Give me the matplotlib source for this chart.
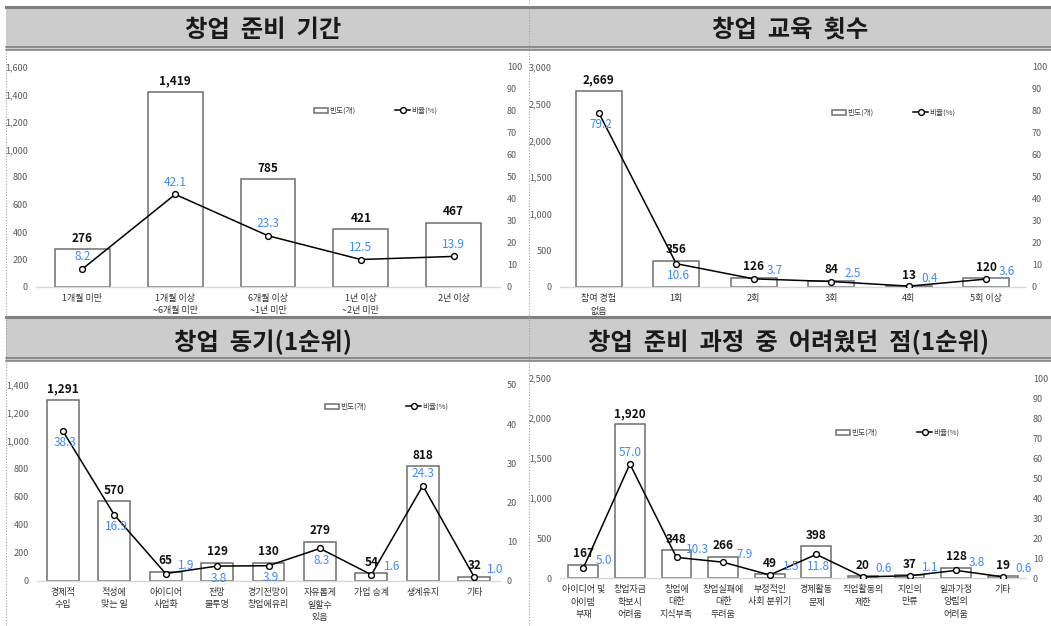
import matplotlib
matplotlib.use("Agg")
import matplotlib.pyplot as plt
from matplotlib.patches import Rectangle
from matplotlib.lines import Line2D

plt.rcParams['font.family'] = ['Noto Sans CJK KR', 'DejaVu Sans']

W, H = 1051, 626

# ---------------- dados ----------------
titulo1 = "창업  준비  기간"
cats1 = ['1개월 미만', '1개월 이상\n~6개월 미만', '6개월 이상\n~1년 미만', '1년 이상\n~2년 미만', '2년 이상']
freq1 = [276, 1419, 785, 421, 467]
pct1 = [8.2, 42.1, 23.3, 12.5, 13.9]

titulo2 = "창업  교육  횟수"
cats2 = ['참여 경험\n없음', '1회', '2회', '3회', '4회', '5회 이상']
freq2 = [2669, 356, 126, 84, 13, 120]
pct2 = [79.2, 10.6, 3.7, 2.5, 0.4, 3.6]

titulo3 = "창업  동기(1순위)"
cats3 = ['경제적\n수입', '적성에\n맞는 일', '아이디어\n사업화', '전망\n불투명', '경기전망이\n창업에유리',
         '자유롭게\n일할수\n있음', '가업 승계', '생계유지', '기타']
freq3 = [1291, 570, 65, 129, 130, 279, 54, 818, 32]
pct3 = [38.3, 16.9, 1.9, 3.8, 3.9, 8.3, 1.6, 24.3, 1.0]

titulo4 = "창업  준비  과정  중  어려웠던  점(1순위)"
cats4 = ['아이디어 및\n아이템\n부재', '창업자금\n확보시\n어려움', '창업에\n대한\n지식부족', '창업실패에\n대한\n두려움',
         '부정적인\n사회 분위기', '경제활동\n문제', '직업활동의\n제한', '지인의\n만류', '일과가정\n양립의\n어려움', '기타']
freq4 = [167, 1920, 348, 266, 49, 398, 20, 37, 128, 19]
pct4 = [5.0, 57.0, 10.3, 7.9, 1.5, 11.8, 0.6, 1.1, 3.8, 0.6]

# ---------------- layout (pixels) ----------------
# (eixo x0, x1, topo, base), máximo esq., passo, máximo dir., largura da barra,
# posição dos rótulos % (a=acima, b=abaixo, r=direita), legenda, título
paineis = [
    (titulo1, cats1, freq1, pct1, (36, 500, 67, 287), 1600, 200, 100, 0.59, 'aaaaa', (312, 111), (263, 30)),
    (titulo2, cats2, freq2, pct2, (560, 1025, 67, 287), 3000, 500, 100, 0.59, 'bbrrrr', (830, 113), (790, 30)),
    (titulo3, cats3, freq3, pct3, (37, 500, 385, 581), 1400, 200, 50, 0.62, 'bbrbbbrar', (323, 407), (263, 342)),
    (titulo4, cats4, freq4, pct4, (560, 1026, 378, 578), 2500, 500, 100, 0.64, 'rarrrbrrrr', (834, 433), (789, 342)),
]

AZUL = '#3d8bfd'
CINZA_TXT = '#595959'

fig = plt.figure(figsize=(W / 100, H / 100), dpi=100)


def fx(x):
    return x / W


def fy(y):
    return 1 - y / H


# faixas de título
for (y0, y1) in [(7, 50), (317, 361)]:
    fig.add_artist(Rectangle((fx(6), fy(y1)), fx(W - 6), (y1 - y0) / H, transform=fig.transFigure,
                             facecolor='#cccccc', edgecolor='none', zorder=0))
    fig.add_artist(Line2D([fx(6), 1], [fy(y0), fy(y0)], transform=fig.transFigure, color='#808080', lw=2.2))
    fig.add_artist(Line2D([fx(6), 1], [fy(y1 - 3), fy(y1 - 3)], transform=fig.transFigure, color='#7a7a7a', lw=1.1))
    fig.add_artist(Line2D([fx(6), 1], [fy(y1), fy(y1)], transform=fig.transFigure, color='#7a7a7a', lw=1.1))

# linhas pontilhadas
fig.add_artist(Line2D([fx(529), fx(529)], [0, 1], transform=fig.transFigure, color='#a0a0a0', lw=0.8, ls=(0, (1, 1.5))))
fig.add_artist(Line2D([fx(6), fx(6)], [0, fy(50)], transform=fig.transFigure, color='#a0a0a0', lw=0.8, ls=(0, (1, 1.5))))

for (titulo, cats, freq, pct, (x0, x1, yt, yb), ymax, ystep, rmax, bw, lugar, (lx, ly), (tx, ty)) in paineis:
    fig.text(fx(tx), fy(ty), titulo, ha='center', va='center', fontsize=17.5, fontweight='bold', color='#1a1a1a')

    ax = fig.add_axes([fx(x0), fy(yb), (x1 - x0) / W, (yb - yt) / H])
    n = len(cats)
    xs = list(range(n))
    barras = ax.bar(xs, freq, width=bw, color='white', edgecolor='#6e6e6e', linewidth=1.1, zorder=2,
                    label='빈도(개)')
    ax.set_xlim(-0.5, n - 0.5)
    ax.set_ylim(0, ymax)
    ax.set_yticks(range(0, ymax + 1, ystep))
    ax.set_yticklabels([f"{v:,}" for v in range(0, ymax + 1, ystep)])
    ax.set_xticks(xs)
    ax.set_xticklabels(cats, fontsize=6.5, color='#333333', linespacing=1.5)
    ax.tick_params(axis='x', length=0, pad=5)
    ax.tick_params(axis='y', length=0, pad=6, labelsize=6.5, labelcolor=CINZA_TXT)
    for s in ['top', 'right', 'left']:
        ax.spines[s].set_visible(False)
    ax.spines['bottom'].set_color('#d9d9d9')
    ax.spines['bottom'].set_linewidth(1)
    ax.patch.set_alpha(0)

    for x, v in zip(xs, freq):
        ax.annotate(f"{v:,}", (x, v), xytext=(0, 11), textcoords='offset pixels', ha='center', va='center',
                    fontsize=8.5, fontweight='bold', color='#111111', zorder=5)

    ax2 = ax.twinx()
    linha, = ax2.plot(xs, pct, color='black', lw=1.1, marker='o', markersize=4.2, markerfacecolor='white',
                      markeredgecolor='black', markeredgewidth=1, zorder=3, label='비율(%)')
    ax2.set_ylim(0, rmax)
    ax2.set_yticks(range(0, rmax + 1, 10))
    ax2.tick_params(axis='y', length=0, pad=5, labelsize=6.5, labelcolor=CINZA_TXT)
    for s in ['top', 'right', 'left', 'bottom']:
        ax2.spines[s].set_visible(False)

    for x, p, l in zip(xs, pct, lugar):
        if l == 'a':
            off = (0, 12)
        elif l == 'b':
            off = (2, -12)
        else:
            off = (21, 8)
        ax2.annotate(f"{p:.1f}", (x, p), xytext=off, textcoords='offset pixels', ha='center', va='center',
                     fontsize=8.5, color=AZUL, zorder=6)

    fig.legend([barras, linha], ['빈도(개)', '비율(%)'], loc='center left',
               bbox_to_anchor=(fx(lx - 2), fy(ly)), ncol=2, frameon=False, fontsize=5.5,
               handlelength=1.9, handleheight=0.6, handletextpad=0.15, columnspacing=5.2,
               labelcolor='#404040', borderpad=0)

fig.savefig("out.png", dpi=100)
